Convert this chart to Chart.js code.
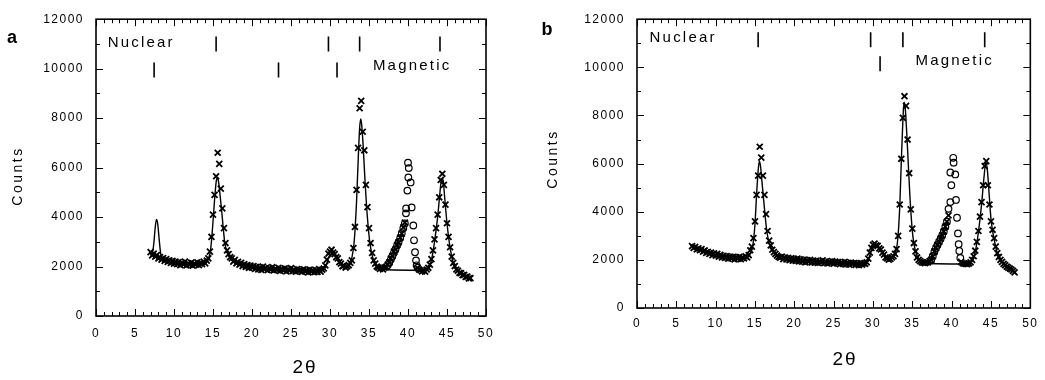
<!DOCTYPE html>
<html>
<head>
<meta charset="utf-8">
<script src="https://cdn.jsdelivr.net/npm/chart.js@4.4.0/dist/chart.umd.min.js"></script>
<style>
  body { margin: 0; background: #fff; }
  #wrap { position: relative; width: 1045px; height: 380px; }
  canvas { position: absolute; top: 0; }
  #chartA { left: 0; }
  #chartB { left: 520px; }
</style>
</head>
<body>
<div id="wrap">
  <canvas id="chartA" width="520" height="380"></canvas>
  <canvas id="chartB" width="525" height="380"></canvas>
</div>
<script>
// scans run from 7.0 to 48.0 deg (2 theta) in 0.2 deg steps
const scanStart = 7.0;
const scanStep = 0.2;

// observed counts, panel a - one row per degree (x.0 x.2 x.4 x.6 x.8)
const obsA = [
  /* 7 */  [2580, 2450, 2520, 2400, 2460],
  /* 8 */  [2330, 2380, 2280, 2340, 2230],
  /* 9 */  [2300, 2190, 2250, 2150, 2230],
  /* 10 */ [2120, 2200, 2100, 2180, 2060],
  /* 11 */ [2150, 2090, 2200, 2050, 2130],
  /* 12 */ [2070, 2160, 2040, 2120, 2080],
  /* 13 */ [2170, 2060, 2150, 2100, 2200],
  /* 14 */ [2130, 2240, 2330, 2600, 3200],
  /* 15 */ [4100, 4900, 5650, 6600, 6150],
  /* 16 */ [5150, 4350, 3550, 2950, 2650],
  /* 17 */ [2500, 2380, 2330, 2200, 2270],
  /* 18 */ [2130, 2190, 2080, 2150, 2020],
  /* 19 */ [2100, 1990, 2060, 1950, 2040],
  /* 20 */ [1960, 2020, 1900, 1990, 1880],
  /* 21 */ [1970, 1860, 2000, 1890, 1950],
  /* 22 */ [1850, 1940, 1870, 1980, 1840],
  /* 23 */ [1920, 1860, 1950, 1820, 1910],
  /* 24 */ [1840, 1930, 1800, 1900, 1830],
  /* 25 */ [1940, 1810, 1880, 1790, 1900],
  /* 26 */ [1820, 1870, 1780, 1890, 1800],
  /* 27 */ [1860, 1760, 1880, 1790, 1850],
  /* 28 */ [1770, 1860, 1780, 1900, 1790],
  /* 29 */ [1870, 1920, 2050, 2280, 2520],
  /* 30 */ [2600, 2680, 2560, 2500, 2380],
  /* 31 */ [2330, 2180, 2120, 2010, 2040],
  /* 32 */ [1960, 2010, 2060, 2150, 2250],
  /* 33 */ [2750, 3600, 5100, 6800, 8400],
  /* 34 */ [8700, 7450, 6700, 5300, 4400],
  /* 35 */ [3550, 2950, 2550, 2250, 2120],
  /* 36 */ [2000, 1960, 1900, 1940, 1880],
  /* 37 */ [1960, 1990, 2080, 2170, 2320],
  /* 38 */ [2430, 2600, 2690, 2870, 2980],
  /* 39 */ [3170, 3330, 3580, 3780, null],
  /* 40 */ [null, null, null, null, null],
  /* 41 */ [null, 1950, 1880, 1850, 1800],
  /* 42 */ [1840, 1790, 1880, 1950, 2080],
  /* 43 */ [2300, 2650, 3100, 3550, 4100],
  /* 44 */ [4800, 5500, 5750, 5300, 4500],
  /* 45 */ [3750, 3200, 2780, 2400, 2150],
  /* 46 */ [2020, 1880, 1830, 1740, 1730],
  /* 47 */ [1650, 1660, 1580, 1590, 1520],
  /* 48 */ [1530]
];

// observed counts, panel b
const obsB = [
  /* 7 */  [2570, 2500, 2540, 2430, 2480],
  /* 8 */  [2400, 2450, 2340, 2390, 2290],
  /* 9 */  [2330, 2250, 2300, 2200, 2270],
  /* 10 */ [2180, 2250, 2130, 2210, 2100],
  /* 11 */ [2170, 2080, 2160, 2050, 2140],
  /* 12 */ [2060, 2130, 2020, 2110, 2040],
  /* 13 */ [2120, 2030, 2090, 2060, 2150],
  /* 14 */ [2100, 2200, 2400, 2550, 2900],
  /* 15 */ [3600, 4700, 5500, 6700, 6250],
  /* 16 */ [5500, 4700, 3900, 3200, 2800],
  /* 17 */ [2600, 2420, 2320, 2250, 2180],
  /* 18 */ [2120, 2090, 2140, 2030, 2100],
  /* 19 */ [2020, 2080, 1990, 2060, 1970],
  /* 20 */ [2040, 1960, 2050, 1940, 2020],
  /* 21 */ [1930, 2010, 1900, 1990, 1920],
  /* 22 */ [2000, 1890, 1970, 1880, 1960],
  /* 23 */ [1870, 1950, 1890, 1980, 1860],
  /* 24 */ [1940, 1850, 1920, 1870, 1950],
  /* 25 */ [1840, 1930, 1860, 1910, 1820],
  /* 26 */ [1900, 1830, 1920, 1810, 1880],
  /* 27 */ [1800, 1890, 1830, 1870, 1790],
  /* 28 */ [1860, 1780, 1870, 1800, 1850],
  /* 29 */ [1830, 1900, 2050, 2300, 2500],
  /* 30 */ [2620, 2680, 2600, 2580, 2480],
  /* 31 */ [2430, 2300, 2220, 2100, 2060],
  /* 32 */ [2010, 2040, 2100, 2150, 2250],
  /* 33 */ [2450, 3000, 4300, 6200, 7900],
  /* 34 */ [8800, 8400, 7000, 5600, 4100],
  /* 35 */ [3300, 2700, 2350, 2100, 2000],
  /* 36 */ [1950, 1900, 1880, 1860, 1890],
  /* 37 */ [1900, 1950, 2000, 2150, 2350],
  /* 38 */ [2500, 2620, 2750, 2880, 3020],
  /* 39 */ [3180, 3380, 3590, 3850, null],
  /* 40 */ [null, null, null, null, null],
  /* 41 */ [null, 1920, 1860, 1840, 1830],
  /* 42 */ [1820, 1850, 1900, 2000, 2150],
  /* 43 */ [2380, 2750, 3200, 3800, 4400],
  /* 44 */ [5100, 5900, 6100, 5100, 4300],
  /* 45 */ [3600, 3250, 2900, 2550, 2280],
  /* 46 */ [2120, 2000, 1920, 1830, 1780],
  /* 47 */ [1720, 1680, 1640, 1600, 1540],
  /* 48 */ [1480]
];

// open circles around the magnetic peak near 40 deg
const circAX = [37.4, 37.6, 37.8, 38.0, 38.2, 38.4, 38.6, 38.8, 39.0, 39.2, 39.4, 39.6, 39.74, 39.76, 39.92, 40.0, 40.04, 40.1, 40.34, 40.47, 40.68, 40.77, 40.9, 41.03, 41.1, 41.25];
const circAY = [2050, 2150, 2280, 2420, 2560, 2700, 2850, 3000, 3150, 3350, 3550, 3740, 4150, 4350, 5070, 6200, 5600, 5980, 5400, 4390, 3660, 3060, 2580, 2250, 2050, 1950];
const circBX = [37.4, 37.6, 37.8, 38.0, 38.2, 38.4, 38.6, 38.8, 39.0, 39.2, 39.4, 39.6, 39.83, 39.83, 39.96, 40.2, 40.25, 40.46, 40.55, 40.68, 40.8, 40.89, 40.97, 41.1];
const circBY = [2000, 2150, 2330, 2480, 2620, 2750, 2880, 3020, 3180, 3380, 3590, 4120, 4400, 5630, 5100, 6240, 6040, 5550, 4490, 3750, 3100, 2650, 2370, 2080];

// calculated profile (solid line)
const fitAX = [7.0, 7.2, 7.4, 7.6, 7.75, 7.9, 8.1, 8.3, 8.5, 9, 10, 11, 12, 13, 14, 14.4, 14.7, 15.0, 15.2, 15.4, 15.55, 15.7, 15.9, 16.1, 16.3, 16.5, 16.8, 17.2, 18, 19, 20, 22, 24, 26, 28, 29, 29.4, 29.8, 30.1, 30.5, 31, 31.5, 32, 32.4, 32.8, 33.1, 33.4, 33.6, 33.8, 33.95, 34.1, 34.3, 34.5, 34.7, 34.9, 35.1, 35.4, 35.8, 36.2, 36.7, 37.3, 41.5, 42.2, 42.6, 43.0, 43.4, 43.8, 44.1, 44.3, 44.5, 44.7, 45.0, 45.4, 45.8, 46.2, 46.8, 47.4, 48.0];
const fitAY = [2450, 2500, 2900, 3600, 3900, 3750, 3100, 2500, 2300, 2250, 2170, 2110, 2090, 2110, 2180, 2300, 2700, 3800, 4700, 5400, 5600, 5450, 4900, 4300, 3600, 3000, 2600, 2380, 2200, 2060, 1990, 1920, 1880, 1850, 1830, 1850, 1950, 2350, 2500, 2470, 2250, 2050, 1980, 2050, 2350, 3000, 4600, 6200, 7600, 7970, 7600, 6600, 5400, 4400, 3600, 3000, 2450, 2100, 1960, 1900, 1870, 1850, 1850, 1950, 2250, 3000, 4000, 5000, 5550, 5500, 4800, 3750, 2750, 2150, 1880, 1720, 1610, 1520];
const fitBX = [7.0, 8, 9, 10, 11, 12, 13, 14, 14.4, 14.7, 15.0, 15.2, 15.4, 15.55, 15.7, 15.9, 16.1, 16.3, 16.5, 16.8, 17.2, 18, 19, 20, 22, 24, 26, 28, 29, 29.4, 29.8, 30.2, 30.6, 31.0, 31.5, 32.0, 32.4, 32.8, 33.1, 33.4, 33.6, 33.8, 33.95, 34.1, 34.3, 34.5, 34.7, 34.9, 35.1, 35.4, 35.8, 36.2, 36.7, 37.3, 41.1, 41.6, 42.2, 42.6, 43.0, 43.4, 43.8, 44.1, 44.35, 44.55, 44.75, 45.0, 45.4, 45.8, 46.2, 46.8, 47.4, 48.0];
const fitBY = [2520, 2400, 2290, 2210, 2150, 2100, 2100, 2160, 2280, 2550, 3500, 4700, 5700, 6100, 5900, 5200, 4500, 3800, 3200, 2700, 2400, 2150, 2050, 2000, 1960, 1930, 1900, 1860, 1870, 2000, 2400, 2580, 2520, 2380, 2150, 2030, 2070, 2300, 2700, 4200, 6100, 7800, 8550, 8300, 7200, 5900, 4600, 3600, 2900, 2350, 2050, 1920, 1880, 1850, 1830, 1830, 1850, 1980, 2330, 3150, 4300, 5400, 6050, 5700, 4800, 3700, 2850, 2280, 2000, 1770, 1620, 1480];

// reflection positions (2 theta)
const nuclearA = [15.4, 29.8, 33.8, 44.1];
const magneticA = [7.45, 23.4, 30.9];
const nuclearB = [15.4, 29.7, 33.8, 44.2];
const magneticB = [30.9];

const xTicks = [0, 5, 10, 15, 20, 25, 30, 35, 40, 45, 50];
const yTicks = [0, 2000, 4000, 6000, 8000, 10000, 12000];

const FONT = '"Liberation Sans", Arial, sans-serif';

function scanPoints(rows) {
  return rows.flat().map((v, i) => ({ x: +(scanStart + i * scanStep).toFixed(1), y: v }));
}

function zipPoints(xs, ys) {
  return xs.map((v, i) => ({ x: v, y: ys[i] }));
}

// frame, inward ticks and the texts
const panelDecor = {
  id: 'panelDecor',
  beforeDraw(chart) {
    chart.ctx.letterSpacing = '1.5px';
  },
  afterDraw(chart, args, opts) {
    const { ctx, chartArea: area, scales: { x, y } } = chart;
    ctx.save();
    ctx.strokeStyle = '#000';
    ctx.lineWidth = 1.6;
    ctx.strokeRect(area.left, area.top, area.right - area.left, area.bottom - area.top);

    ctx.lineWidth = 1;
    ctx.beginPath();
    for (let v = 0; v <= 50; v++) {
      const px = Math.round(x.getPixelForValue(v)) + 0.5;
      const len = v % 5 === 0 ? 7 : 4;
      ctx.moveTo(px, area.bottom); ctx.lineTo(px, area.bottom - len);
      ctx.moveTo(px, area.top); ctx.lineTo(px, area.top + len);
    }
    for (let v = 0; v <= 12000; v += 1000) {
      const py = Math.round(y.getPixelForValue(v)) + 0.5;
      const len = v % 2000 === 0 ? 7 : 4;
      ctx.moveTo(area.left, py); ctx.lineTo(area.left + len, py);
      ctx.moveTo(area.right, py); ctx.lineTo(area.right - len, py);
    }
    ctx.stroke();

    ctx.fillStyle = '#000';
    ctx.textBaseline = 'middle';

    // row labels, placed in data units
    ctx.font = '15px ' + FONT;
    ctx.letterSpacing = '2.2px';
    ctx.textAlign = 'left';
    opts.rowLabels.forEach(l => {
      ctx.fillText(l.text, x.getPixelForValue(l.x), y.getPixelForValue(l.y));
    });

    // axis titles
    ctx.textAlign = 'center';
    ctx.font = '19px ' + FONT;
    ctx.letterSpacing = '2px';
    ctx.fillText('2θ', opts.xTitle[0], opts.xTitle[1]);

    ctx.save();
    ctx.translate(opts.yTitle[0], opts.yTitle[1]);
    ctx.rotate(-Math.PI / 2);
    ctx.font = '14px ' + FONT;
    ctx.letterSpacing = '2.5px';
    ctx.fillText('Counts', 0, 0);
    ctx.restore();

    // panel letter
    ctx.font = 'bold 18px ' + FONT;
    ctx.letterSpacing = '0px';
    ctx.fillText(opts.letter, opts.letterPos[0], opts.letterPos[1]);
    ctx.restore();
  }
};

function makePanel(id, p) {
  const reflMarks = (xs, level) => ({
    data: xs.map(v => ({ x: v, y: level })),
    showLine: false,
    pointStyle: 'line',
    pointRotation: 90,
    pointRadius: 7.5,
    pointBorderWidth: 1.6,
    borderColor: '#000',
    pointBorderColor: '#000'
  });

  return new Chart(document.getElementById(id), {
    type: 'scatter',
    data: {
      datasets: [
        {
          data: zipPoints(p.fitX, p.fitY),
          showLine: true,
          borderColor: '#000',
          borderWidth: 1.4,
          pointRadius: 0,
          cubicInterpolationMode: 'monotone'
        },
        {
          data: scanPoints(p.obs),
          showLine: false,
          pointStyle: 'crossRot',
          pointRadius: 4.2,
          pointBorderWidth: 1.8,
          pointBorderColor: '#000'
        },
        {
          data: zipPoints(p.circX, p.circY),
          showLine: false,
          pointStyle: 'circle',
          pointRadius: 3.3,
          pointBorderWidth: 1.2,
          pointBorderColor: '#000',
          pointBackgroundColor: 'rgba(255,255,255,0)'
        },
        reflMarks(p.nuclear, p.nucLevel),
        reflMarks(p.magnetic, p.magLevel)
      ]
    },
    options: {
      responsive: false,
      animation: false,
      devicePixelRatio: 1,
      layout: { padding: p.padding },
      plugins: {
        legend: { display: false },
        tooltip: { enabled: false },
        panelDecor: p.decor
      },
      scales: {
        x: {
          type: 'linear',
          min: 0,
          max: 50,
          afterBuildTicks: s => { s.ticks = xTicks.map(v => ({ value: v })); },
          afterFit: s => { s.height = p.xHeight; },
          grid: { display: false, drawTicks: false },
          border: { display: false },
          ticks: {
            color: '#000',
            padding: p.xPad,
            maxRotation: 0,
            callback: v => String(v),
            font: { family: FONT, size: 12 }
          }
        },
        y: {
          min: 0,
          max: 12000,
          afterBuildTicks: s => { s.ticks = yTicks.map(v => ({ value: v })); },
          afterFit: s => { s.width = p.yWidth; },
          grid: { display: false, drawTicks: false },
          border: { display: false },
          ticks: {
            color: '#000',
            padding: 12,
            callback: v => String(v),
            font: { family: FONT, size: 12 }
          }
        }
      }
    },
    plugins: [panelDecor]
  });
}

makePanel('chartA', {
  obs: obsA, circX: circAX, circY: circAY, fitX: fitAX, fitY: fitAY,
  nuclear: nuclearA, magnetic: magneticA, nucLevel: 11000, magLevel: 9950,
  padding: { left: 0, top: 18, right: 34, bottom: 0 },
  yWidth: 96, xHeight: 64, xPad: 10,
  decor: {
    letter: 'a', letterPos: [12, 38],
    xTitle: [305, 368], yTitle: [18, 176],
    rowLabels: [
      { text: 'Nuclear', x: 1.5, y: 11030 },
      { text: 'Magnetic', x: 35.5, y: 10100 }
    ]
  }
});

makePanel('chartB', {
  obs: obsB, circX: circBX, circY: circBY, fitX: fitBX, fitY: fitBY,
  nuclear: nuclearB, magnetic: magneticB, nucLevel: 11150, magLevel: 10150,
  padding: { left: 0, top: 14, right: 13, bottom: 0 },
  yWidth: 117, xHeight: 72, xPad: 8,
  decor: {
    letter: 'b', letterPos: [27, 30],
    xTitle: [325, 360], yTitle: [33, 159],
    rowLabels: [
      { text: 'Nuclear', x: 1.6, y: 11230 },
      { text: 'Magnetic', x: 35.4, y: 10250 }
    ]
  }
});
</script>
</body>
</html>
